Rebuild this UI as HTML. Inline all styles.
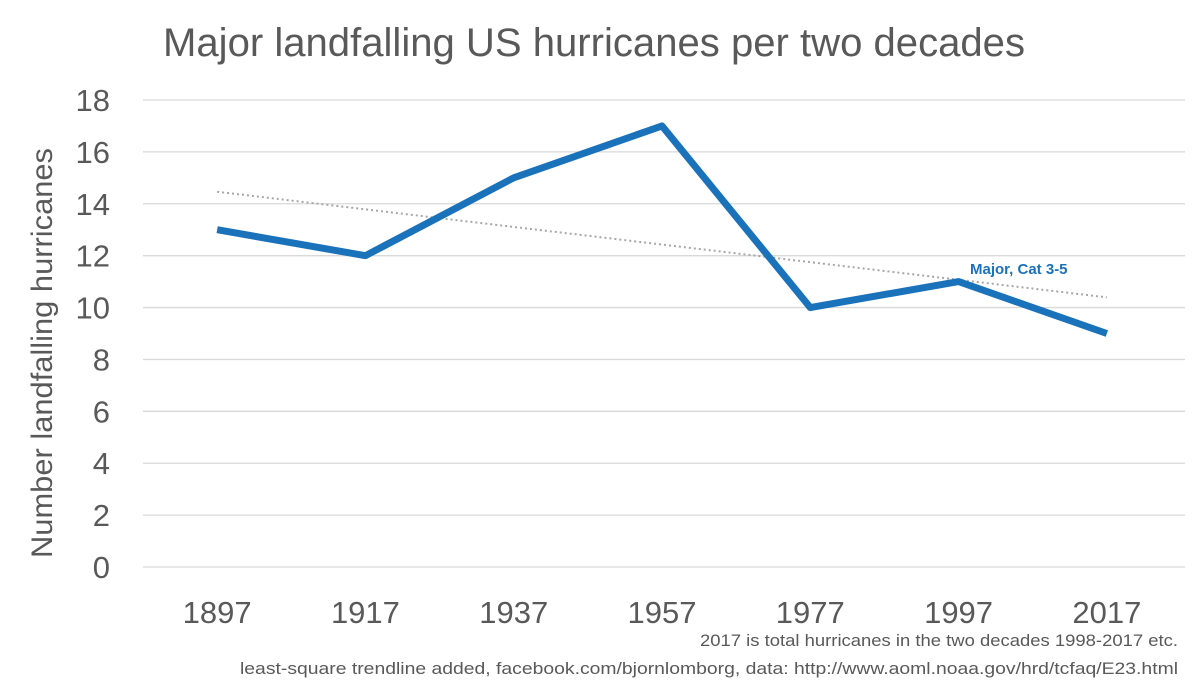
<!DOCTYPE html>
<html><head><meta charset="utf-8"><style>
body{margin:0;background:#fff;}
svg text{font-family:"Liberation Sans",sans-serif;}
</style></head><body>
<svg id="chart" width="1200" height="689" viewBox="0 0 1200 689" xmlns="http://www.w3.org/2000/svg">
<text x="163" y="56" font-size="40" textLength="862" lengthAdjust="spacingAndGlyphs" fill="#595959">Major landfalling US hurricanes per two decades</text>
<text transform="translate(52,353) rotate(-90)" text-anchor="middle" font-size="30" textLength="410" lengthAdjust="spacingAndGlyphs" fill="#595959">Number landfalling hurricanes</text>
<g id="grid"></g><g id="yticks"></g><g id="xticks"></g><g id="marks"></g>
<text x="970" y="274" font-size="15" font-weight="bold" fill="#1a72bb">Major, Cat 3-5</text>
<text x="1178" y="646" text-anchor="end" font-size="17" textLength="478" lengthAdjust="spacingAndGlyphs" fill="#595959">2017 is total hurricanes in the two decades 1998-2017 etc.</text>
<text x="1178" y="674" text-anchor="end" font-size="17" textLength="938" lengthAdjust="spacingAndGlyphs" fill="#595959">least-square trendline added, facebook.com/bjornlomborg, data: http://www.aoml.noaa.gov/hrd/tcfaq/E23.html</text>
</svg>
<script>
const categories=["1897","1917","1937","1957","1977","1997","2017"];
const values=[13,12,15,17,10,11,9];
const yTicks=[0,2,4,6,8,10,12,14,16,18];
const NS="http://www.w3.org/2000/svg";
const left=143,right=1181,y0=567,y18=100;
const xs=i=>left+(right-left)/categories.length*(i+0.5);
const ys=v=>y0-(y0-y18)*v/18;
function mk(t,a,p){const e=document.createElementNS(NS,t);for(const k in a)e.setAttribute(k,a[k]);p.appendChild(e);return e;}
const grid=document.getElementById('grid'),yt=document.getElementById('yticks'),xt=document.getElementById('xticks'),marks=document.getElementById('marks');
yTicks.forEach(v=>{
 const l=mk('line',{x1:left,x2:1185,y1:ys(v),y2:ys(v),stroke:'#d9d9d9','stroke-width':1.3},grid);
 
 
 const t=mk('text',{x:110,y:ys(v)+11,'text-anchor':'end','font-size':31,fill:'#595959'},yt);
 t.textContent=v;
 
 
});
categories.forEach((c,i)=>{
 const t=mk('text',{x:xs(i),y:623,'text-anchor':'middle','font-size':31,fill:'#595959'},xt);
 t.textContent=c;
 
 
});
const n=values.length;let mx=0,my=0;values.forEach((v,i)=>{mx+=i;my+=v});mx/=n;my/=n;
let sxy=0,sxx=0;values.forEach((v,i)=>{sxy+=(i-mx)*(v-my);sxx+=(i-mx)*(i-mx)});
const b=sxy/sxx,a=my-b*mx;
const tr=mk('line',{x1:xs(0),y1:ys(a),x2:xs(n-1),y2:ys(a+b*(n-1)),stroke:'#a6a6a6','stroke-width':2,'stroke-dasharray':'2 3'},marks);


const pl=mk('polyline',{points:values.map((v,i)=>xs(i)+','+ys(v)).join(' '),fill:'none',stroke:'#1a72bb','stroke-width':7,'stroke-linejoin':'round'},marks);


</script>
</body></html>
